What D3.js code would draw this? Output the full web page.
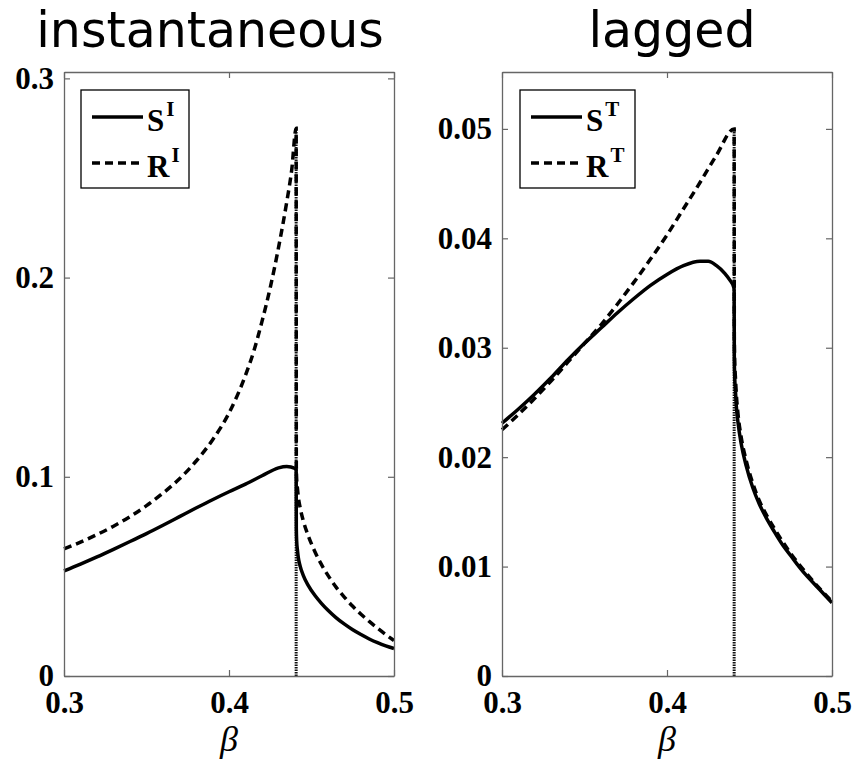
<!DOCTYPE html>
<html><head><meta charset="utf-8">
<script src="https://cdn.jsdelivr.net/npm/d3@7"></script>
<style>body{margin:0;background:#fff}svg{display:block}</style>
</head><body><svg id="c" width="856" height="763"></svg>
<script>
// ---- data ----
const betaC = 0.4407;
const xTickValues = [0.3, 0.4, 0.5];
const xTickLabels = ["0.3", "0.4", "0.5"];
const yTicksInst = [0, 0.1, 0.2, 0.3];
const yTickLabelsInst = ["0", "0.1", "0.2", "0.3"];
const yTicksLag = [0, 0.01, 0.02, 0.03, 0.04, 0.05];
const yTickLabelsLag = ["0", "0.01", "0.02", "0.03", "0.04", "0.05"];
const titles = ["instantaneous", "lagged"];
const xLabel = "β";

// instantaneous S^I (solid)
const sInstBeta = [0.30,0.31,0.32,0.33,0.34,0.35,0.36,0.37,0.38,0.39,0.40,0.41,0.42,0.43,0.435,0.44,0.4407,0.4408,0.441,0.4415,0.442,0.443,0.445,0.448,0.452,0.456,0.46,0.465,0.47,0.475,0.48,0.485,0.49,0.495,0.50];
const sInstVal  = [0.0528,0.0562,0.0598,0.0636,0.0675,0.0715,0.0757,0.0800,0.0843,0.0885,0.0925,0.0963,0.1005,0.1045,0.1052,0.1042,0.1036,0.074,0.068,0.063,0.0595,0.0555,0.0505,0.0455,0.0405,0.0365,0.0330,0.0292,0.0260,0.0232,0.0208,0.0186,0.0167,0.0151,0.0138];
// instantaneous R^I (dashed)
const rInstBeta = [0.30,0.31,0.32,0.33,0.34,0.35,0.36,0.37,0.38,0.39,0.40,0.41,0.415,0.42,0.425,0.43,0.435,0.438,0.4407,0.4408,0.441,0.4415,0.442,0.443,0.445,0.448,0.452,0.456,0.46,0.465,0.47,0.475,0.48,0.485,0.49,0.495,0.50];
const rInstVal  = [0.0638,0.0672,0.0710,0.0752,0.0800,0.0855,0.0918,0.0990,0.1078,0.1185,0.1320,0.1510,0.1630,0.1780,0.1950,0.2150,0.2380,0.2540,0.2750,0.105,0.099,0.094,0.090,0.085,0.078,0.0705,0.0625,0.0560,0.0505,0.0445,0.0395,0.0350,0.0310,0.0274,0.0240,0.0208,0.0178];
// lagged S^T (solid)
const sLagBeta = [0.30,0.31,0.32,0.33,0.34,0.35,0.36,0.37,0.38,0.39,0.40,0.41,0.42,0.425,0.43,0.435,0.438,0.4405,0.4407,0.4408,0.441,0.4415,0.442,0.443,0.445,0.448,0.452,0.456,0.46,0.465,0.47,0.475,0.48,0.485,0.49,0.495,0.50];
const sLagVal  = [0.0231,0.0244,0.0258,0.0273,0.0289,0.0304,0.0318,0.0332,0.0345,0.0357,0.0367,0.0375,0.0379,0.0379,0.0375,0.0368,0.0362,0.0355,0.0352,0.0290,0.0275,0.0260,0.0247,0.0232,0.0212,0.0192,0.0172,0.0157,0.0145,0.0132,0.0120,0.0110,0.0100,0.0091,0.0083,0.0075,0.0067];
// lagged R^T (dashed)
const rLagBeta = [0.30,0.31,0.32,0.33,0.34,0.35,0.36,0.37,0.38,0.39,0.40,0.41,0.42,0.43,0.4407,0.4408,0.441,0.4415,0.442,0.443,0.445,0.448,0.452,0.456,0.46,0.465,0.47,0.475,0.48,0.485,0.49,0.495,0.50];
const rLagVal  = [0.0225,0.0239,0.0254,0.0270,0.0287,0.0304,0.0321,0.0340,0.0360,0.0381,0.0403,0.0427,0.0451,0.0476,0.0500,0.0310,0.0290,0.0272,0.0258,0.0240,0.0218,0.0197,0.0176,0.0160,0.0148,0.0135,0.0123,0.0112,0.0102,0.0093,0.0084,0.0076,0.0068];

const legendInst = ["S", "I", "R", "I"];
const legendLag = ["S", "T", "R", "T"];

// ---- drawing ----
const svg = d3.select("#c");
const tickFont = "'Liberation Serif','Times New Roman',serif";

const panels = [
  {x0: 64, x1: 394, yMax: 0.3032, yTicks: yTicksInst, yLabels: yTickLabelsInst,
   s: [sInstBeta, sInstVal], r: [rInstBeta, rInstVal], leg: legendInst, title: titles[0], titleX: 210,
   legBox: [81, 189]},
  {x0: 502, x1: 832, yMax: 0.0552, yTicks: yTicksLag, yLabels: yTickLabelsLag,
   s: [sLagBeta, sLagVal], r: [rLagBeta, rLagVal], leg: legendLag, title: titles[1], titleX: 672,
   legBox: [520, 635]}
];
const yTop = 72, yBot = 676;

panels.forEach(p => {
  const x = d3.scaleLinear().domain([0.3, 0.5]).range([p.x0, p.x1]);
  const y = d3.scaleLinear().domain([0, p.yMax]).range([yBot, yTop]);
  const g = svg.append("g");

  // title
  svg.append("text").attr("x", p.titleX).attr("y", 47).attr("text-anchor", "middle")
    .attr("font-family", "'DejaVu Sans',Verdana,sans-serif").attr("font-size", 49)
    .attr("fill", "#000").text(p.title);

  // critical dotted line
  const rPeak = d3.max(p.r[1]);
  g.append("line").attr("x1", x(betaC)).attr("x2", x(betaC)).attr("y1", y(0)).attr("y2", y(rPeak))
    .attr("stroke", "#111").attr("stroke-width", 3).attr("stroke-dasharray", "1.5,1");

  const line = d3.line().x(d => x(d[0])).y(d => y(d[1])).curve(d3.curveMonotoneX);
  const rPts = p.r[0].map((b, i) => [b, p.r[1][i]]);
  const sPts = p.s[0].map((b, i) => [b, p.s[1][i]]);
  g.append("path").datum(rPts).attr("d", line).attr("fill", "none").attr("stroke", "#000")
    .attr("stroke-width", 3.5).attr("stroke-dasharray", "8,5");
  g.append("path").datum(sPts).attr("d", line).attr("fill", "none").attr("stroke", "#000")
    .attr("stroke-width", 3.5);

  // axes (ticks inward) on all sides
  const axB = d3.axisBottom(x).tickValues(xTickValues).tickFormat((d, i) => xTickLabels[i]).tickSizeInner(-6).tickSizeOuter(0).tickPadding(15);
  const axT = d3.axisTop(x).tickValues(xTickValues).tickFormat("").tickSizeInner(-6).tickSizeOuter(0);
  const axL = d3.axisLeft(y).tickValues(p.yTicks).tickFormat((d, i) => p.yLabels[i]).tickSizeInner(-6).tickSizeOuter(0).tickPadding(10);
  const axR = d3.axisRight(y).tickValues(p.yTicks).tickFormat("").tickSizeInner(-6).tickSizeOuter(0);
  const styleAx = sel => {
    sel.selectAll("path.domain").attr("stroke", "#666").attr("stroke-width", 1.3);
    sel.selectAll(".tick line").attr("stroke", "#666").attr("stroke-width", 1.2);
    sel.selectAll(".tick text").attr("font-family", tickFont).attr("font-weight", "bold")
      .attr("font-size", 31).attr("fill", "#000");
  };
  svg.append("g").attr("transform", `translate(0,${yBot})`).call(axB).call(styleAx)
    .selectAll(".tick text").attr("dy", "0.71em");
  svg.append("g").attr("transform", `translate(0,${yTop})`).call(axT).call(styleAx);
  svg.append("g").attr("transform", `translate(${p.x0},0)`).call(axL).call(styleAx);
  svg.append("g").attr("transform", `translate(${p.x1},0)`).call(axR).call(styleAx);

  // x label
  svg.append("text").attr("x", (p.x0 + p.x1) / 2).attr("y", 751).attr("text-anchor", "middle")
    .attr("font-family", tickFont).attr("font-style", "italic").attr("font-size", 36).text(xLabel);

  // legend
  const [lx0, lx1] = p.legBox;
  const lg = svg.append("g");
  lg.append("rect").attr("x", lx0).attr("y", 90).attr("width", lx1 - lx0).attr("height", 98)
    .attr("fill", "#fff").attr("stroke", "#000").attr("stroke-width", 1.3);
  const rows = [{y: 117, dash: null, t: p.leg[0], sup: p.leg[1]}, {y: 163, dash: "8,5", t: p.leg[2], sup: p.leg[3]}];
  rows.forEach(r => {
    lg.append("line").attr("x1", lx0 + 11).attr("x2", lx0 + 62).attr("y1", r.y).attr("y2", r.y)
      .attr("stroke", "#000").attr("stroke-width", 3.5).attr("stroke-dasharray", r.dash);
    const t = lg.append("text").attr("x", lx0 + 66).attr("y", r.y + 14)
      .attr("font-family", tickFont).attr("font-weight", "bold").attr("font-size", 31);
    t.append("tspan").text(r.t);
    t.append("tspan").attr("font-size", 21).attr("dy", -15).attr("dx", 2).text(r.sup);
  });
});
</script></body></html>
